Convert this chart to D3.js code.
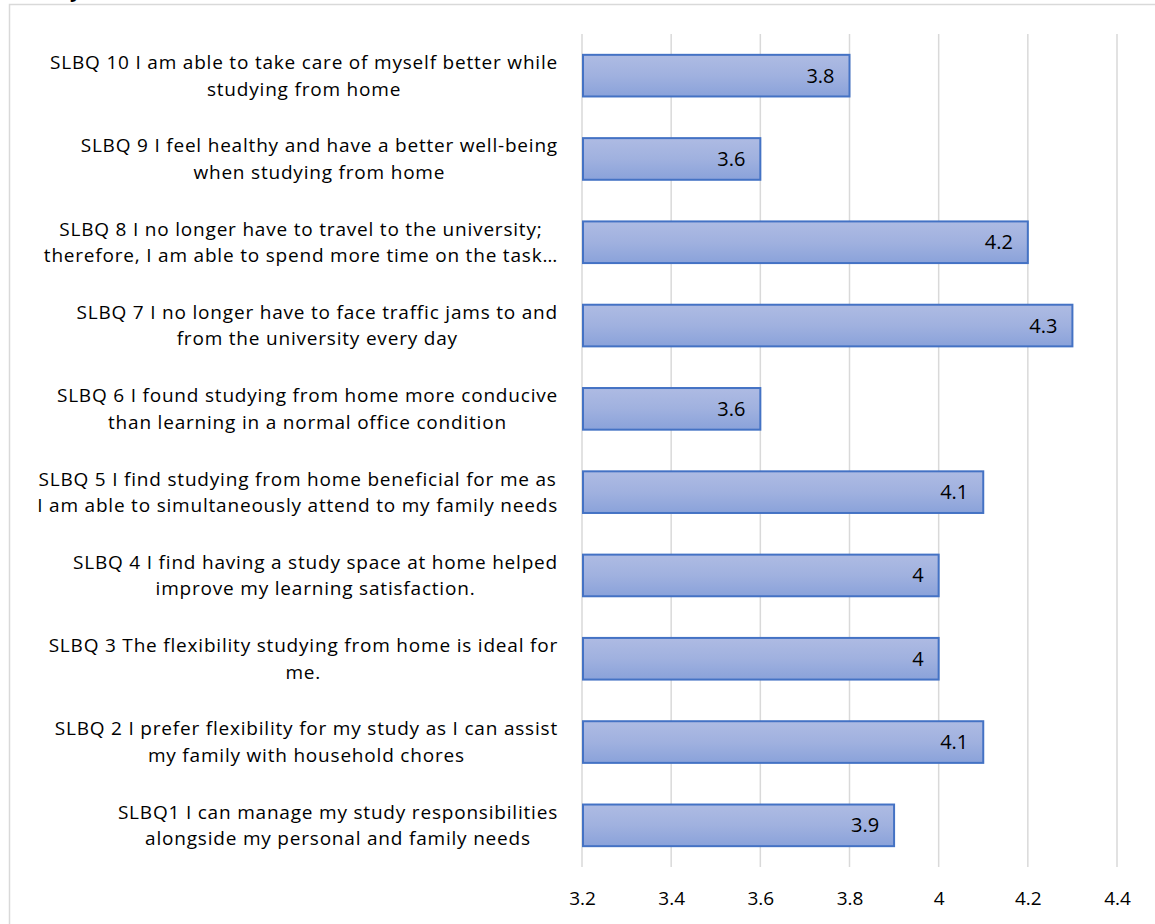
<!DOCTYPE html>
<html><head><meta charset="utf-8">
<script src="https://cdn.jsdelivr.net/npm/d3@7"></script>
<style>
html,body{margin:0;padding:0;background:#fff;}
svg{display:block;}
text{font-family:"Open Sans",Lato,sans-serif;fill:#000;}
</style></head>
<body>
<svg id="chart" width="1155" height="924"></svg>
<script>
// ---- data ----
const categories = ["SLBQ 10","SLBQ 9","SLBQ 8","SLBQ 7","SLBQ 6","SLBQ 5","SLBQ 4","SLBQ 3","SLBQ 2","SLBQ1"];
const labelLines = [
  ["SLBQ 10 I am able to take care of myself better while","studying from home"],
  ["SLBQ 9 I feel healthy and have a better well-being","when studying from home"],
  ["SLBQ 8 I no longer have to travel to the university;","therefore, I am able to spend more time on the task\u2026"],
  ["SLBQ 7 I no longer have to face traffic jams to and","from the university every day"],
  ["SLBQ 6 I found studying from home more conducive","than learning in a normal office condition"],
  ["SLBQ 5 I find studying from home beneficial for me as","I am able to simultaneously attend to my family needs"],
  ["SLBQ 4 I find having a study space at home helped","improve my learning satisfaction."],
  ["SLBQ 3 The flexibility studying from home is ideal for","me."],
  ["SLBQ 2 I prefer flexibility for my study as I can assist","my family with household chores"],
  ["SLBQ1 I can manage my study responsibilities","alongside my personal and family needs"]
];
const values = [3.8, 3.6, 4.2, 4.3, 3.6, 4.1, 4.0, 4.0, 4.1, 3.9];
const valueLabels = ["3.8","3.6","4.2","4.3","3.6","4.1","4","4","4.1","3.9"];
const xTicks = [3.2, 3.4, 3.6, 3.8, 4.0, 4.2, 4.4];
const xDomain = [3.2, 4.4];

// ---- layout ----
const svg = d3.select("#chart");
const plot = {left:582, right:1117, top:34, bottom:867};
const fs = 19;

// fragment of the page heading above the chart (cut off in the source too)
svg.append("text").attr("x",70).attr("y",-3).attr("font-size",20)
  .attr("font-weight","bold").text("y");

// chart frame
svg.append("rect").attr("x",9.5).attr("y",4.5).attr("width",1200).attr("height",1000)
  .attr("fill","#fff").attr("stroke","#d9d9d9").attr("stroke-width",1.5);

const x = d3.scaleLinear().domain(xDomain).range([plot.left, plot.right]);
const y = d3.scaleBand().domain(categories).range([plot.top, plot.bottom])
  .paddingInner(0.5).paddingOuter(0.25);

// gridlines
svg.append("g").selectAll("line").data(xTicks).join("line")
  .attr("x1",d=>x(d)).attr("x2",d=>x(d))
  .attr("y1",plot.top).attr("y2",plot.bottom)
  .attr("stroke","#d9d9d9").attr("stroke-width",1.5);

// x axis labels
const xAxis = d3.axisBottom(x).tickValues(xTicks).tickSize(0).tickPadding(0)
  .tickFormat(d=>String(+d.toFixed(1)));
const gx = svg.append("g").attr("transform",`translate(0,${plot.bottom})`).call(xAxis);
gx.select(".domain").remove();
gx.selectAll("text").attr("font-size",fs).attr("dy","0.35em").attr("y",31)
  .attr("font-family","'Open Sans',Lato,sans-serif").attr("fill","#000");

// gradient
const defs = svg.append("defs");
const grad = defs.append("linearGradient").attr("id","barGrad").attr("x1",0).attr("y1",0).attr("x2",0).attr("y2",1);
grad.append("stop").attr("offset","0%").attr("stop-color","#aebbe3");
grad.append("stop").attr("offset","50%").attr("stop-color","#a0b1df");
grad.append("stop").attr("offset","100%").attr("stop-color","#8aa2da");

// bars
svg.append("g").selectAll("rect").data(values).join("rect")
  .attr("x",x(xDomain[0])+1)
  .attr("y",(d,i)=>y(categories[i]))
  .attr("width",d=>x(d)-x(xDomain[0])-1)
  .attr("height",y.bandwidth())
  .attr("fill","url(#barGrad)")
  .attr("stroke","#4472c4").attr("stroke-width",2);

// value labels
svg.append("g").selectAll("text").data(values).join("text")
  .attr("x",d=>x(d)-15)
  .attr("y",(d,i)=>y(categories[i])+y.bandwidth()/2)
  .attr("dy","0.35em")
  .attr("text-anchor","end").attr("font-size",20)
  .text((d,i)=>valueLabels[i]);

// category labels (lines centred within a right-aligned block)
const labelRight = 558;
const lineH = 26.5;
const gl = svg.append("g");
categories.forEach((c,i)=>{
  const lines = labelLines[i];
  const cy = y(c)+y.bandwidth()/2;
  const g = gl.append("g");
  const ts = lines.map((t,j)=> g.append("text")
     .attr("font-size",fs)
     .attr("letter-spacing","0.8px")
     .attr("y", cy + (j-(lines.length-1)/2)*lineH)
     .attr("dy","0.35em")
     .attr("text-anchor","middle")
     .text(t));
  const maxW = d3.max(ts, t=>t.node().getComputedTextLength());
  ts.forEach(t=>t.attr("x", labelRight - maxW/2));
});
</script>
</body></html>
